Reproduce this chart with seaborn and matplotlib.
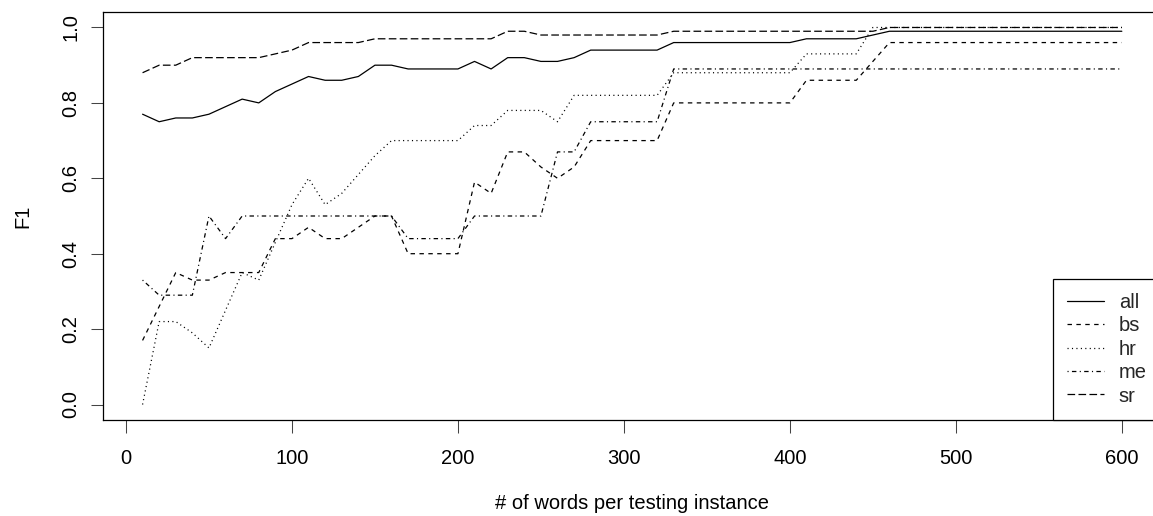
import matplotlib
matplotlib.use("Agg")
import matplotlib.pyplot as plt
import seaborn as sns

# words per testing instance
words = [10, 20, 30, 40, 50, 60, 70, 80, 90, 100,
         110, 120, 130, 140, 150, 160, 170, 180, 190, 200,
         210, 220, 230, 240, 250, 260, 270, 280, 290, 300,
         310, 320, 330, 340, 350, 360, 370, 380, 390, 400,
         410, 420, 430, 440, 450, 460, 470, 480, 490, 500,
         510, 520, 530, 540, 550, 560, 570, 580, 590, 600]

f1_all = [0.77, 0.75, 0.76, 0.76, 0.77, 0.79, 0.81, 0.80, 0.83, 0.85,
          0.87, 0.86, 0.86, 0.87, 0.90, 0.90, 0.89, 0.89, 0.89, 0.89,
          0.91, 0.89, 0.92, 0.92, 0.91, 0.91, 0.92, 0.94, 0.94, 0.94,
          0.94, 0.94, 0.96, 0.96, 0.96, 0.96, 0.96, 0.96, 0.96, 0.96,
          0.97, 0.97, 0.97, 0.97, 0.98, 0.99, 0.99, 0.99, 0.99, 0.99,
          0.99, 0.99, 0.99, 0.99, 0.99, 0.99, 0.99, 0.99, 0.99, 0.99]

f1_bs = [0.17, 0.26, 0.35, 0.33, 0.33, 0.35, 0.35, 0.35, 0.44, 0.44,
         0.47, 0.44, 0.44, 0.47, 0.50, 0.50, 0.40, 0.40, 0.40, 0.40,
         0.59, 0.56, 0.67, 0.67, 0.63, 0.60, 0.63, 0.70, 0.70, 0.70,
         0.70, 0.70, 0.80, 0.80, 0.80, 0.80, 0.80, 0.80, 0.80, 0.80,
         0.86, 0.86, 0.86, 0.86, 0.91, 0.96, 0.96, 0.96, 0.96, 0.96,
         0.96, 0.96, 0.96, 0.96, 0.96, 0.96, 0.96, 0.96, 0.96, 0.96]

f1_hr = [0.00, 0.22, 0.22, 0.19, 0.15, 0.25, 0.35, 0.33, 0.43, 0.53,
         0.60, 0.53, 0.56, 0.61, 0.66, 0.70, 0.70, 0.70, 0.70, 0.70,
         0.74, 0.74, 0.78, 0.78, 0.78, 0.75, 0.82, 0.82, 0.82, 0.82,
         0.82, 0.82, 0.88, 0.88, 0.88, 0.88, 0.88, 0.88, 0.88, 0.88,
         0.93, 0.93, 0.93, 0.93, 1.00, 1.00, 1.00, 1.00, 1.00, 1.00,
         1.00, 1.00, 1.00, 1.00, 1.00, 1.00, 1.00, 1.00, 1.00, 1.00]

f1_me = [0.33, 0.29, 0.29, 0.29, 0.50, 0.44, 0.50, 0.50, 0.50, 0.50,
         0.50, 0.50, 0.50, 0.50, 0.50, 0.50, 0.44, 0.44, 0.44, 0.44,
         0.50, 0.50, 0.50, 0.50, 0.50, 0.67, 0.67, 0.75, 0.75, 0.75,
         0.75, 0.75, 0.89, 0.89, 0.89, 0.89, 0.89, 0.89, 0.89, 0.89,
         0.89, 0.89, 0.89, 0.89, 0.89, 0.89, 0.89, 0.89, 0.89, 0.89,
         0.89, 0.89, 0.89, 0.89, 0.89, 0.89, 0.89, 0.89, 0.89, 0.89]

f1_sr = [0.88, 0.90, 0.90, 0.92, 0.92, 0.92, 0.92, 0.92, 0.93, 0.94,
         0.96, 0.96, 0.96, 0.96, 0.97, 0.97, 0.97, 0.97, 0.97, 0.97,
         0.97, 0.97, 0.99, 0.99, 0.98, 0.98, 0.98, 0.98, 0.98, 0.98,
         0.98, 0.98, 0.99, 0.99, 0.99, 0.99, 0.99, 0.99, 0.99, 0.99,
         0.99, 0.99, 0.99, 0.99, 0.99, 1.00, 1.00, 1.00, 1.00, 1.00,
         1.00, 1.00, 1.00, 1.00, 1.00, 1.00, 1.00, 1.00, 1.00, 1.00]

series_names = ["all", "bs", "hr", "me", "sr"]
series_values = [f1_all, f1_bs, f1_hr, f1_me, f1_sr]
# R style line types (lty 1..5), in points
line_styles = ["-", (0, (3.2, 3.2)), (0, (0.8, 2.4)),
               (0, (0.8, 2.4, 3.2, 2.4)), (0, (5.5, 2.4))]

sns.set_theme(style="ticks")
plt.rcParams["font.family"] = ["Liberation Sans", "DejaVu Sans"]
plt.rcParams["lines.scale_dashes"] = False
fs = 14.5

fig = plt.figure(figsize=(11.53, 5.16), dpi=100)
ax = fig.add_axes([103.4 / 1153, (516 - 419.6) / 516,
                   (1161 - 103.4) / 1153, (419.6 - 12.4) / 516])

for name, vals, ls in zip(series_names, series_values, line_styles):
    sns.lineplot(x=words, y=vals, color="black", linestyle=ls,
                 linewidth=0.9, label=name, ax=ax)

ax.set_xlim(-13.6, 623.6)
ax.set_ylim(-0.04, 1.04)
ax.set_xticks([0, 100, 200, 300, 400, 500, 600])
ax.set_yticks([0.0, 0.2, 0.4, 0.6, 0.8, 1.0])
ax.set_yticklabels(["0.0", "0.2", "0.4", "0.6", "0.8", "1.0"])

for sp in ax.spines.values():
    sp.set_color("black")
    sp.set_linewidth(0.9)
ax.tick_params(axis="both", length=9, width=0.75, color="#444444",
               labelsize=fs, labelcolor="black")
ax.tick_params(axis="x", pad=12.0)
ax.tick_params(axis="y", pad=7.6)
for lab in ax.get_yticklabels():
    lab.set_rotation(90)
    lab.set_va("center")

ax.set_xlabel("# of words per testing instance", fontsize=fs, color="black")
ax.set_ylabel("F1", fontsize=fs, color="black")
ax.xaxis.set_label_coords(0.5, -0.182)
ax.yaxis.set_label_coords(-0.0675, 0.5)

leg = ax.legend(loc="lower right", bbox_to_anchor=(1, 0), borderaxespad=0,
                fontsize=fs, frameon=True, fancybox=False, framealpha=1,
                edgecolor="black", handlelength=1.84, handletextpad=0.72,
                borderpad=0.7, labelspacing=0.22)
leg.get_frame().set_linewidth(0.9)

fig.savefig("out.png", dpi=100)
